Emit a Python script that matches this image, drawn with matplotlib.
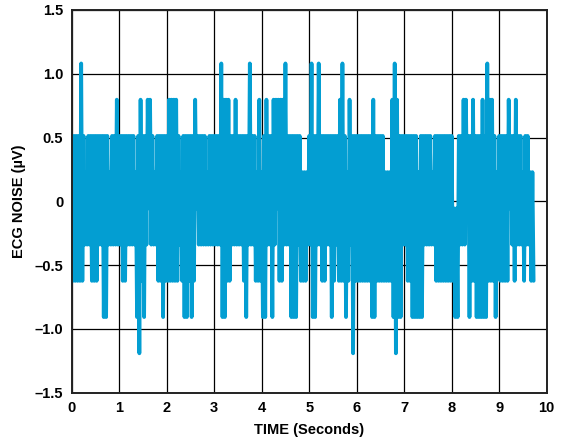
import matplotlib
matplotlib.use("Agg")
import matplotlib.pyplot as plt
import numpy as np

# Quantised ECG noise levels (µV), index = code
levels_uv = [-1.191, -0.907, -0.623, -0.339, -0.055, 0.229, 0.513, 0.797, 1.081]

# Alternating samples: upper ("peak") and lower ("trough") code of each 0.05 s pair
peak_codes = [
    6, 6, 6, 6, 8, 6, 5, 6, 6, 6, 6, 6, 6, 6, 6, 6, 5, 6, 6, 7,
    6, 6, 6, 6, 6, 6, 6, 5, 6, 7, 6, 6, 7, 7, 6, 5, 6, 6, 6, 6,
    6, 7, 7, 7, 7, 6, 5, 6, 6, 6, 6, 6, 7, 6, 6, 6, 6, 5, 6, 6,
    6, 6, 6, 8, 7, 7, 7, 6, 6, 7, 6, 6, 6, 6, 6, 8, 6, 6, 5, 7,
    5, 6, 7, 6, 6, 7, 7, 7, 7, 7, 8, 6, 6, 6, 6, 6, 6, 5, 5, 5,
    6, 8, 6, 6, 8, 6, 6, 6, 6, 6, 6, 6, 6, 7, 8, 6, 5, 7, 6, 6,
    6, 6, 6, 6, 6, 6, 6, 7, 6, 6, 6, 6, 5, 5, 5, 7, 8, 7, 6, 6,
    6, 6, 6, 6, 6, 6, 5, 6, 6, 6, 6, 6, 5, 6, 6, 6, 6, 6, 6, 6,
    6, 4, 4, 6, 6, 7, 7, 6, 6, 7, 6, 6, 6, 7, 6, 8, 7, 7, 6, 5,
    6, 6, 6, 6, 7, 6, 6, 7, 6, 6, 5, 6, 6, 5, 5,
]
trough_codes = [
    2, 2, 2, 2, 2, 3, 3, 3, 2, 2, 2, 3, 3, 1, 1, 3, 3, 3, 3, 3,
    3, 2, 2, 3, 3, 3, 3, 1, 0, 2, 1, 3, 4, 3, 3, 3, 2, 2, 1, 2,
    2, 2, 2, 2, 2, 3, 2, 1, 1, 2, 1, 2, 4, 3, 3, 3, 3, 3, 3, 3,
    3, 3, 3, 1, 1, 2, 2, 3, 3, 3, 3, 3, 2, 1, 3, 3, 3, 2, 2, 2,
    1, 1, 3, 3, 1, 3, 4, 2, 2, 3, 3, 3, 1, 1, 1, 3, 2, 2, 2, 3,
    3, 1, 1, 3, 3, 2, 2, 3, 3, 1, 2, 3, 2, 2, 2, 1, 2, 3, 0, 2,
    2, 2, 2, 2, 2, 2, 1, 1, 2, 2, 2, 2, 2, 2, 2, 1, 0, 1, 1, 3,
    3, 2, 2, 1, 1, 1, 1, 1, 3, 3, 3, 3, 3, 2, 2, 2, 2, 2, 2, 2,
    2, 1, 1, 3, 3, 3, 4, 1, 2, 2, 1, 1, 1, 1, 1, 2, 2, 2, 1, 3,
    2, 2, 2, 2, 4, 3, 2, 3, 3, 3, 2, 3, 3, 2, 2,
]
sample_interval_s = 0.025

x_ticks = [0, 1, 2, 3, 4, 5, 6, 7, 8, 9, 10]
y_ticks = [-1.5, -1.0, -0.5, 0, 0.5, 1.0, 1.5]
y_tick_labels = ["\u20131.5", "\u20131.0", "\u20130.5", "0", "0.5", "1.0", "1.5"]

codes = [c for pair in zip(peak_codes, trough_codes) for c in pair]
noise_uv = [levels_uv[c] for c in codes]
time_s = np.arange(len(noise_uv)) * sample_interval_s

plt.rcParams['font.family'] = ['Liberation Sans', 'DejaVu Sans']
plt.rcParams['font.weight'] = 'bold'

fig = plt.figure(figsize=(5.74, 4.44), dpi=100)
ax = fig.add_axes([0.1249, 0.1155, 0.8275, 0.862])

ax.plot(time_s, noise_uv, color="#039ED2", linewidth=2.7,
        solid_joinstyle="round", solid_capstyle="round")

ax.set_xlim(0, 10)
ax.set_ylim(-1.5, 1.5)
ax.set_xticks(x_ticks)
ax.set_xticklabels([str(v) for v in x_ticks], fontsize=10.5, fontweight='bold')
ax.set_yticks(y_ticks)
ax.set_yticklabels(y_tick_labels, fontsize=10.5, fontweight='bold')
ax.tick_params(length=0, pad=6)

ax.set_axisbelow(True)
ax.grid(True, color="black", linewidth=0.9)
for s in ax.spines.values():
    s.set_color("#222222")
    s.set_linewidth(1.4)

ax.set_xlabel("TIME (Seconds)", fontsize=10.5, fontweight='bold', labelpad=6)
ax.set_ylabel("ECG NOISE (\u00b5V)", fontsize=10.5, fontweight='bold', labelpad=6)

fig.savefig("out.png", dpi=100)
